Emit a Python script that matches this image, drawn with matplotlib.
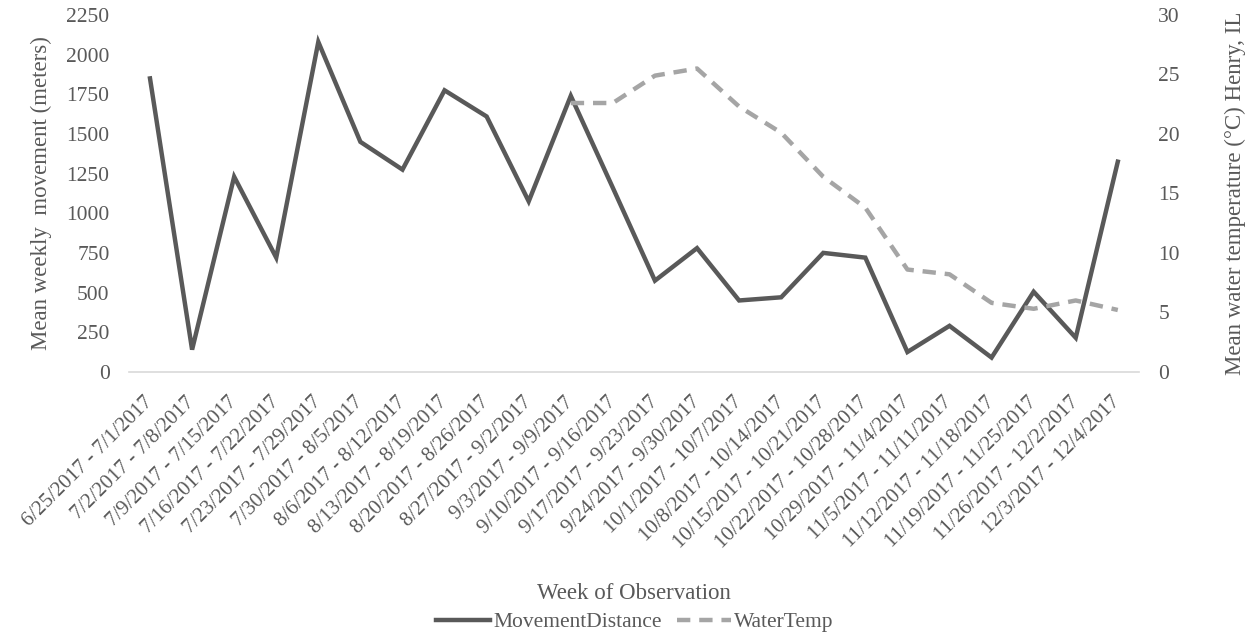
import numpy as np
import matplotlib
matplotlib.use("Agg")
import matplotlib.pyplot as plt

plt.rcParams['font.family'] = ['Liberation Serif', 'DejaVu Serif']

weeks = ["6/25/2017 - 7/1/2017", "7/2/2017 - 7/8/2017", "7/9/2017 - 7/15/2017",
         "7/16/2017 - 7/22/2017", "7/23/2017 - 7/29/2017", "7/30/2017 - 8/5/2017",
         "8/6/2017 - 8/12/2017", "8/13/2017 - 8/19/2017", "8/20/2017 - 8/26/2017",
         "8/27/2017 - 9/2/2017", "9/3/2017 - 9/9/2017", "9/10/2017 - 9/16/2017",
         "9/17/2017 - 9/23/2017", "9/24/2017 - 9/30/2017", "10/1/2017 - 10/7/2017",
         "10/8/2017 - 10/14/2017", "10/15/2017 - 10/21/2017", "10/22/2017 - 10/28/2017",
         "10/29/2017 - 11/4/2017", "11/5/2017 - 11/11/2017", "11/12/2017 - 11/18/2017",
         "11/19/2017 - 11/25/2017", "11/26/2017 - 12/2/2017", "12/3/2017 - 12/4/2017"]

movement = [1850, 140, 1230, 720, 2080, 1450, 1275, 1775, 1610, 1075, 1740, 1160,
            575, 780, 450, 470, 750, 720, 125, 290, 90, 505, 215, 1325]

water_temp = [np.nan] * 10 + [22.6, 22.6, 24.9, 25.5, 22.3, 20.1, 16.4, 13.8,
                              8.6, 8.2, 5.8, 5.3, 6.0, 5.2]

dark = '#595959'
light = '#a5a5a5'

fig = plt.figure(figsize=(12.57, 6.4), dpi=100)
ax = fig.add_axes([0.1026, 0.419, 0.8034, 0.5576])
ax2 = ax.twinx()

x = np.arange(len(weeks))
l1, = ax.plot(x, movement, color=dark, lw=3.2, solid_joinstyle='miter', label='MovementDistance')
l2, = ax2.plot(x, water_temp, color=light, lw=3.2, ls=(0, (3, 2)), label='WaterTemp')

ax.set_xlim(-0.5, len(weeks) - 0.5)
ax.set_ylim(0, 2250)
ax.set_yticks(np.arange(0, 2251, 250))
ax2.set_ylim(0, 30)
ax2.set_yticks(np.arange(0, 31, 5))

for a in (ax, ax2):
    for s in a.spines.values():
        s.set_visible(False)
    a.tick_params(length=0, labelsize=15.5, labelcolor=dark)
ax.spines['bottom'].set_visible(True)
ax.spines['bottom'].set_color('#d9d9d9')
ax.spines['bottom'].set_linewidth(1.2)

ax.set_xticks(x)
ax.set_xticklabels(weeks, rotation=45, ha='right', va='center', rotation_mode='anchor')
ax.tick_params(axis='x', pad=20, labelsize=15)
ax.tick_params(axis='y', pad=14)
ax2.tick_params(axis='y', pad=14)

ax.set_ylabel('Mean weekly  movement (meters)', fontsize=16.5, color=dark, labelpad=10)
ax2.set_ylabel('Mean water temperature (°C) Henry, IL', fontsize=16.5, color=dark, labelpad=32)
ax.set_xlabel('Week of Observation', fontsize=16.5, color=dark, labelpad=22)

fig.legend(handles=[l1, l2], loc='center', bbox_to_anchor=(0.505, 0.028), ncol=2,
           frameon=False, fontsize=15.5, labelcolor=dark, handlelength=2.5,
           handletextpad=0.15, columnspacing=0.7)

fig.savefig('out.png', dpi=100)
